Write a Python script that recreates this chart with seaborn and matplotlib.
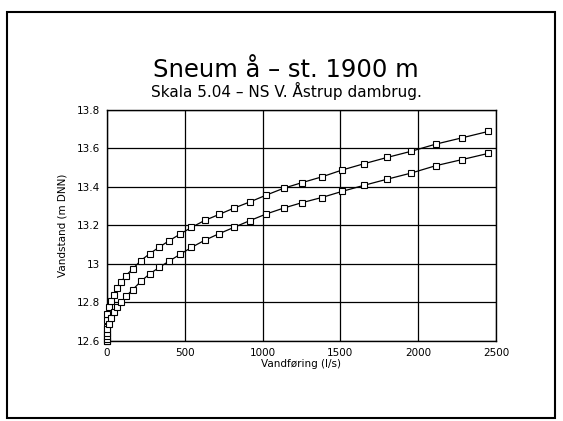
"""Vandføringskurve Sneum å, st. 1900 m — to kurver (Q-h) med åbne firkanter."""
import matplotlib
matplotlib.use("Agg")
import matplotlib.pyplot as plt
from matplotlib.patches import Rectangle
import pandas as pd
import seaborn as sns

# vandføring (l/s) — samme Q-værdier for begge kurver
discharge = [0, 0, 0, 1, 3, 10, 24, 42, 63, 90, 122, 166, 218, 274, 335, 400,
             470, 543, 628, 720, 816, 918, 1025, 1135, 1252, 1380, 1512, 1650,
             1800, 1955, 2112, 2282, 2450]
# vandstand (m DNN), øverste kurve
stage_upper = [12.600, 12.638, 12.674, 12.709, 12.742, 12.775, 12.808, 12.841,
               12.874, 12.907, 12.940, 12.975, 13.018, 13.053, 13.087, 13.121,
               13.155, 13.190, 13.226, 13.257, 13.290, 13.322, 13.358, 13.393,
               13.422, 13.452, 13.488, 13.520, 13.553, 13.585, 13.622, 13.655,
               13.688]
# vandstand (m DNN), nederste kurve
stage_lower = [12.600, 12.612, 12.625, 12.642, 12.662, 12.686, 12.720, 12.750,
               12.776, 12.801, 12.832, 12.867, 12.910, 12.948, 12.982, 13.015,
               13.050, 13.086, 13.123, 13.157, 13.190, 13.225, 13.260, 13.290,
               13.318, 13.345, 13.377, 13.408, 13.440, 13.472, 13.510, 13.542,
               13.574]

x_ticks = [0, 500, 1000, 1500, 2000, 2500]
y_ticks = [12.6, 12.8, 13.0, 13.2, 13.4, 13.6, 13.8]
y_tick_labels = ["12.6", "12.8", "13", "13.2", "13.4", "13.6", "13.8"]

df = pd.concat([
    pd.DataFrame({"Q": discharge, "h": stage_upper, "kurve": "oevre"}),
    pd.DataFrame({"Q": discharge, "h": stage_lower, "kurve": "nedre"}),
], ignore_index=True)

sns.set_style("white")
plt.rcParams["font.family"] = ["DejaVu Sans"]
plt.rcParams.update({"text.color": "black", "axes.labelcolor": "black",
                     "xtick.color": "black", "ytick.color": "black"})

fig = plt.figure(figsize=(5.63, 4.21), dpi=100)
ax = fig.add_axes([0.190, 0.190, 0.691, 0.549])

sns.lineplot(data=df, x="Q", y="h", hue="kurve", units="kurve",
             palette={"oevre": "black", "nedre": "black"},
             estimator=None, sort=False, legend=False, ax=ax,
             linewidth=0.9, marker="s", markersize=4.5,
             markerfacecolor="white", markeredgecolor="black",
             markeredgewidth=0.8, clip_on=False, zorder=3)

ax.set_xlim(0, 2500)
ax.set_ylim(12.6, 13.8)
ax.set_xticks(x_ticks)
ax.set_yticks(y_ticks)
ax.set_yticklabels(y_tick_labels)
ax.grid(True, color="black", linewidth=0.9)
for s in ax.spines.values():
    s.set_color("black")
    s.set_linewidth(1.0)
ax.tick_params(axis="y", direction="out", length=3, width=0.9,
               labelsize=7.5, pad=2)
ax.tick_params(axis="x", length=0, labelsize=7.5, pad=5)
ax.set_xlabel("Vandføring (l/s)", fontsize=7.5, labelpad=1)
ax.set_ylabel("Vandstand (m DNN)", fontsize=7.5, labelpad=7)

fig.text(286 / 563, 1 - 70 / 421, "Sneum å – st. 1900 m", ha="center",
         va="center", fontsize=17.5)
fig.text(286 / 563, 1 - 91 / 421, "Skala 5.04 – NS V. Åstrup dambrug.",
         ha="center", va="center", fontsize=11)

# ramme om hele figuren
fig.patches.append(Rectangle((7 / 563, 3 / 421), 548 / 563, 406 / 421,
                             transform=fig.transFigure, fill=False,
                             edgecolor="black", linewidth=1.5))

fig.savefig("out.png", dpi=100)
plt.close(fig)
